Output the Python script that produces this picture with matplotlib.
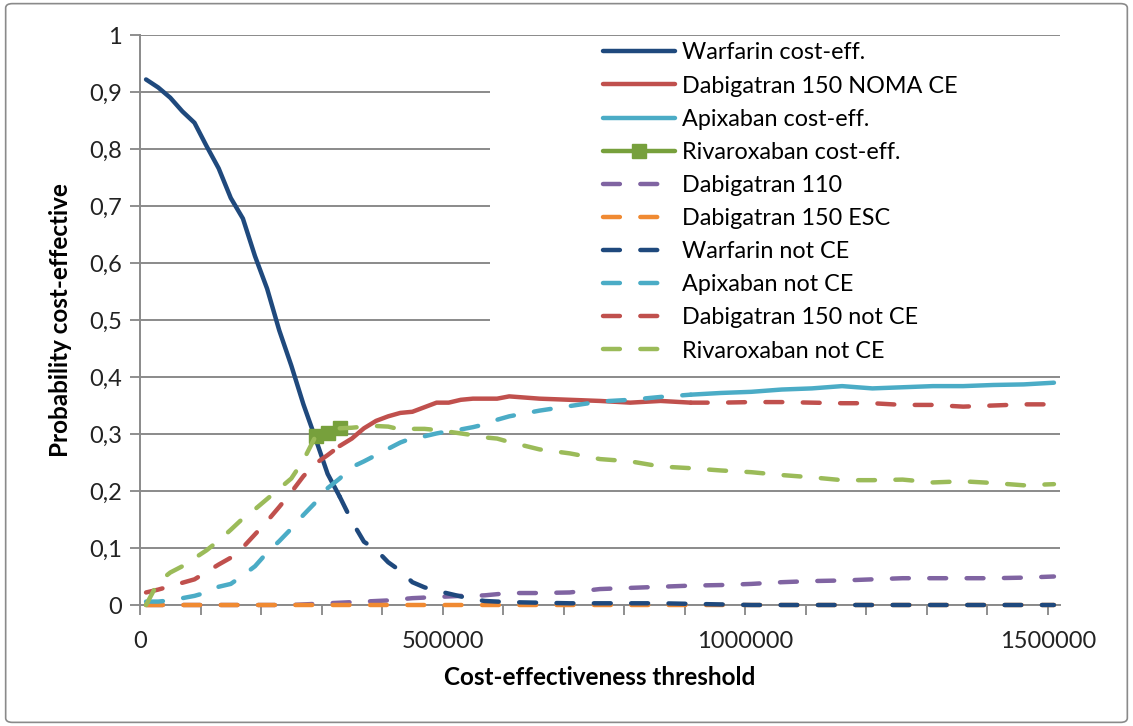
import numpy as np
import matplotlib
matplotlib.use("Agg")
import matplotlib.pyplot as plt
from matplotlib.patches import Rectangle, FancyBboxPatch

plt.rcParams['font.family'] = ['Lato', 'DejaVu Sans']

# --- thresholds (x) ---
x_early = [10000, 30000, 50000, 70000, 90000, 110000, 130000, 150000, 170000, 190000,
           210000, 230000, 250000, 270000, 290000, 310000, 330000, 350000, 370000, 390000,
           410000, 430000, 450000, 470000, 490000, 510000, 530000, 550000, 570000, 590000, 610000]
x_late = [660000, 710000, 760000, 810000, 860000, 910000, 960000, 1010000, 1060000,
          1110000, 1160000, 1210000, 1260000, 1310000, 1360000, 1410000, 1460000, 1510000]
threshold = np.array(x_early + x_late, dtype=float)

# --- probability cost-effective per drug ---
warfarin = [0.922, 0.908, 0.89, 0.866, 0.846, 0.805, 0.766, 0.714, 0.678, 0.612,
            0.555, 0.482, 0.42, 0.352, 0.292, 0.23, 0.19, 0.147, 0.111, 0.097,
            0.075, 0.06, 0.04, 0.031, 0.025, 0.02, 0.015, 0.01, 0.007, 0.006, 0.005,
            0.004, 0.003, 0.003, 0.003, 0.003, 0.002, 0.001, 0, 0, 0, 0, 0, 0, 0, 0, 0, 0, 0]
dabi150 = [0.022, 0.027, 0.033, 0.039, 0.045, 0.058, 0.071, 0.083, 0.101, 0.124,
           0.147, 0.172, 0.198, 0.226, 0.248, 0.263, 0.279, 0.292, 0.31, 0.323,
           0.331, 0.337, 0.339, 0.347, 0.355, 0.355, 0.36, 0.362, 0.362, 0.362, 0.366,
           0.362, 0.36, 0.358, 0.355, 0.358, 0.355, 0.355, 0.356, 0.356, 0.355, 0.354,
           0.354, 0.351, 0.351, 0.348, 0.35, 0.352, 0.352]
apixaban = [0.006, 0.006, 0.008, 0.012, 0.016, 0.022, 0.032, 0.037, 0.052, 0.068,
            0.092, 0.112, 0.134, 0.158, 0.18, 0.205, 0.222, 0.242, 0.252, 0.263,
            0.274, 0.285, 0.293, 0.296, 0.301, 0.305, 0.308, 0.312, 0.317, 0.325, 0.331,
            0.341, 0.349, 0.357, 0.36, 0.365, 0.369, 0.372, 0.374, 0.378, 0.38, 0.384,
            0.38, 0.382, 0.384, 0.384, 0.386, 0.387, 0.39]
rivaroxaban = [0.0, 0.04, 0.057, 0.068, 0.082, 0.096, 0.113, 0.132, 0.152, 0.168,
               0.186, 0.204, 0.222, 0.254, 0.296, 0.302, 0.31, 0.311, 0.313, 0.314,
               0.313, 0.308, 0.309, 0.309, 0.307, 0.304, 0.301, 0.298, 0.294, 0.292, 0.286,
               0.273, 0.266, 0.256, 0.252, 0.243, 0.24, 0.236, 0.233, 0.228, 0.224, 0.219,
               0.219, 0.22, 0.215, 0.217, 0.214, 0.21, 0.212]
dabi110 = [0, 0, 0, 0, 0, 0, 0, 0, 0, 0, 0, 0, 0, 0.001, 0.002, 0.003, 0.004, 0.005,
           0.006, 0.007, 0.008, 0.01, 0.012, 0.013, 0.014, 0.015, 0.016, 0.016, 0.017,
           0.019, 0.021,
           0.021, 0.022, 0.028, 0.03, 0.032, 0.034, 0.035, 0.037, 0.04, 0.042, 0.043,
           0.045, 0.047, 0.047, 0.047, 0.047, 0.048, 0.05]
dabi150_esc = [0.0] * 49

# ranges where each drug is the cost-effective choice
WARF_CE_END = 330000
RIVA_CE = (290000, 330000)
DABI_CE = (330000, 910000)
APIX_CE_START = 910000

x = threshold
warf = np.array(warfarin); d150 = np.array(dabi150); apix = np.array(apixaban)
riva = np.array(rivaroxaban); d110 = np.array(dabi110); desc = np.array(dabi150_esc)

def only(mask, y):
    return np.where(mask, y, np.nan)

c_blue = '#1f497d'
c_red = '#c0504d'
c_cyan = '#4bacc6'
c_green = '#9bbb59'
c_green_d = '#77a03c'
c_purple = '#8064a2'
c_orange = '#f08a32'

dash = (0, (3.8, 4.6))
lw = 3.2
solid = dict(lw=lw, solid_capstyle='round', solid_joinstyle='round', clip_on=False)
dashed = dict(lw=lw, ls=dash, dash_capstyle='round', clip_on=False)

fig = plt.figure(figsize=(11.33, 7.26), dpi=100)
ax = fig.add_axes([140 / 1133, 121 / 726, 920 / 1133, 570 / 726])

ax.plot(x, only(x <= WARF_CE_END, warf), color=c_blue, label='Warfarin cost-eff.', **solid)
ax.plot(x, only((x >= DABI_CE[0]) & (x <= DABI_CE[1]), d150), color=c_red,
        label='Dabigatran 150 NOMA CE', **solid)
ax.plot(x, only(x >= APIX_CE_START, apix), color=c_cyan, label='Apixaban cost-eff.', **solid)
ax.plot(x, only((x >= RIVA_CE[0]) & (x <= RIVA_CE[1]), riva), color=c_green_d,
        marker='s', markersize=10, label='Rivaroxaban cost-eff.', **solid)
ax.plot(x, d110, color=c_purple, label='Dabigatran 110', **dashed)
ax.plot(x, desc, color=c_orange, label='Dabigatran 150 ESC', **dashed)
ax.plot(x, only(x >= WARF_CE_END, warf), color=c_blue, label='Warfarin not CE', **dashed)
ax.plot(x, only(x <= APIX_CE_START, apix), color=c_cyan, label='Apixaban not CE', **dashed)
ax.plot(x, only((x <= DABI_CE[0]) | (x >= DABI_CE[1]), d150), color=c_red,
        label='Dabigatran 150 not CE', **dashed)
ax.plot(x, only((x <= RIVA_CE[0]) | (x >= RIVA_CE[1]), riva), color=c_green,
        label='Rivaroxaban not CE', **dashed)

ax.set_xlim(0, 1520000)
ax.set_ylim(0, 1)
ax.set_xticks(np.arange(0, 1500001, 100000))
ax.set_xticklabels(['0' if v == 0 else (str(v) if v % 500000 == 0 else '')
                    for v in range(0, 1500001, 100000)])
ax.set_yticks(np.arange(0, 1.01, 0.1))
ax.set_yticklabels(['0', '0,1', '0,2', '0,3', '0,4', '0,5', '0,6', '0,7', '0,8', '0,9', '1'])
ax.tick_params(axis='both', colors='#868686', labelcolor='#222222', labelsize=17,
               length=7, width=1.3)
ax.tick_params(axis='x', pad=12)
ax.tick_params(axis='y', pad=6)
ax.grid(axis='y', color='#8a8a8a', lw=1.4)
ax.set_axisbelow(True)
for s in ['top', 'right']:
    ax.spines[s].set_visible(False)
for s in ['left', 'bottom']:
    ax.spines[s].set_color('#8a8a8a')
    ax.spines[s].set_linewidth(1.4)
    ax.spines[s].set_zorder(1.5)

ax.set_xlabel('Cost-effectiveness threshold', fontsize=17.5, fontweight='bold', labelpad=10)
ax.set_ylabel('Probability cost-effective', fontsize=17.5, fontweight='bold', labelpad=12)

# white legend area hides the gridlines behind it
ax.add_patch(Rectangle((0.38, 0.421), 0.62, 0.575, transform=ax.transAxes,
                       facecolor='white', edgecolor='none', zorder=1.2))
leg = ax.legend(loc='upper left', bbox_to_anchor=(0.503, 0.987), frameon=False,
                fontsize=16.8, handlelength=3.1, handletextpad=0.3, labelspacing=0.52,
                borderpad=0, borderaxespad=0)

fig.patches.append(FancyBboxPatch((0.005, 0.005), 0.99, 0.99, transform=fig.transFigure,
                                  boxstyle='round,pad=0,rounding_size=0.006',
                                  fill=False, edgecolor='#8a8a8a', lw=1.2))

fig.savefig('out.png', dpi=100)
